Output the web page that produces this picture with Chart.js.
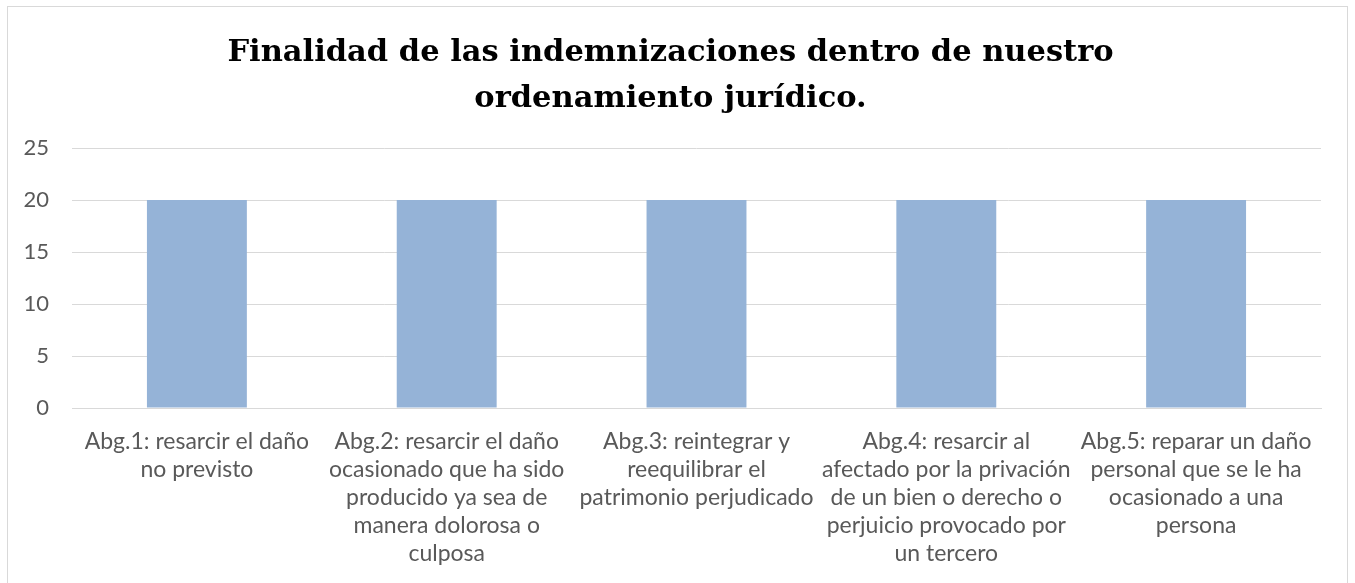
<!DOCTYPE html>
<html>
<head>
<meta charset="utf-8">
<script src="https://cdn.jsdelivr.net/npm/chart.js@4/dist/chart.umd.min.js"></script>
<style>
  html, body { margin: 0; padding: 0; background: #fff; }
  #wrap { position: absolute; left: 0; top: 0; width: 1355px; height: 583px; }
  #frame { position: absolute; left: 7px; top: 6px; width: 1341px; height: 600px; border: 1px solid #d9d9d9; box-sizing: border-box; pointer-events: none; }
  canvas { position: absolute; left: 0; top: 0; }
</style>
</head>
<body>
<div id="wrap">
  <div id="frame"></div>
  <canvas id="c" width="1355" height="583"></canvas>
</div>
<script>
const titleLines = ["Finalidad de las indemnizaciones dentro de nuestro", "ordenamiento jurídico."];
const categories = [
  ["Abg.1: resarcir el daño", "no previsto"],
  ["Abg.2: resarcir el daño", "ocasionado que ha sido", "producido ya sea de", "manera dolorosa o", "culposa"],
  ["Abg.3: reintegrar y", "reequilibrar el", "patrimonio perjudicado"],
  ["Abg.4: resarcir al", "afectado por la privación", "de un bien o derecho o", "perjuicio provocado por", "un tercero"],
  ["Abg.5: reparar un daño", "personal que se le ha", "ocasionado a una", "persona"]
];
const values = [20, 20, 20, 20, 20];
const yTicks = [0, 5, 10, 15, 20, 25];

new Chart(document.getElementById('c'), {
  type: 'bar',
  data: {
    labels: categories,
    datasets: [{
      data: values,
      backgroundColor: '#95b3d7',
      borderWidth: 0,
      barPercentage: 0.4,
      categoryPercentage: 1.0
    }]
  },
  options: {
    responsive: false,
    animation: false,
    layout: { padding: { left: 20, right: 34, top: 0, bottom: 5 } },
    plugins: {
      legend: { display: false },
      tooltip: { enabled: false },
      title: {
        display: true,
        text: titleLines,
        color: '#000000',
        font: { family: '"DejaVu Serif", serif', size: 30.5, weight: 'bold', lineHeight: '46px' },
        padding: { top: 30, bottom: 26 }
      }
    },
    scales: {
      x: {
        grid: { display: false, drawTicks: false },
        border: { display: true, color: '#d9d9d9', width: 1 },
        ticks: {
          color: '#595959',
          font: { family: 'Lato, sans-serif', size: 23, lineHeight: '28px' },
          padding: 20,
          maxRotation: 0,
          autoSkip: false
        },
        afterFit: (s) => { s.height = 170; }
      },
      y: {
        min: 0,
        max: 25,
        afterBuildTicks: (s) => { s.ticks = yTicks.map(v => ({ value: v })); },
        grid: { color: '#d9d9d9', lineWidth: 1, drawTicks: false },
        border: { display: false },
        ticks: {
          color: '#595959',
          font: { family: 'Lato, sans-serif', size: 22 },
          padding: 23
        },
        afterFit: (s) => { s.width = 52; }
      }
    }
  }
});
</script>
</body>
</html>
